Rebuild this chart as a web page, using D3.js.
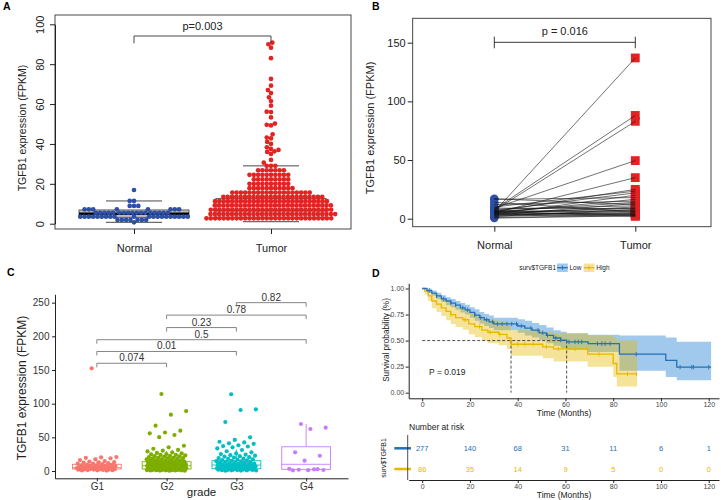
<!DOCTYPE html>
<html>
<head>
<meta charset="utf-8">
<script src="https://cdn.jsdelivr.net/npm/d3@7"></script>
<style>
body { margin: 0; background: #fff; }
svg { display: block; font-family: "Liberation Sans", Arial, Helvetica, sans-serif; }
</style>
</head>
<body>
<div id="chart"></div>
<script>
// ---------- Panel A: beeswarm (rows are [value, count]) ----------
const groupsA = ["Normal", "Tumor"];
const normalRows = [[0.7, 1], [1.9, 7], [3.5, 20], [5.5, 17], [7.2, 8], [8.9, 3], [11.4, 2], [16.9, 1]];
const tumorRows = [[2.7, 30], [4.85, 30], [7.0, 29], [9.15, 28], [11.3, 27], [13.45, 24], [15.6, 19],
                   [17.8, 11], [20.0, 10], [22.2, 9], [24.5, 10], [26.8, 7], [29.0, 3]];
const tumorHigh = [30.6, 32, 35, 36, 36.3, 37, 37.5, 38.3, 40, 41, 42.8, 43.2, 44.8, 49.3, 49.6, 50.2,
                   53.3, 56, 56.2, 59.2, 61.5, 63.4, 65.5, 67, 69.2, 72.6, 83, 88.3, 90, 90.8];
const boxQ1A = [3.2, 3.0];
const boxMedA = [5.0, 6.5];
const boxQ3A = [6.9, 12.7];
const errLowA = [0.7, 1.0];
const errHighA = [11.4, 29.0];

// ---------- Panel B: paired samples ----------
const pairLabelsB = ["Normal", "Tumor"];
const normalB = [6, 8, 7, 9, 5, 6, 10, 7, 4, 16.5, 5, 12, 6, 3, 17, 8, 4, 5, 9, 2, 6, 3, 14, 7, 4, 2, 5, 3, 1, 6, 0.5, 4];
const tumorB = [137, 88, 83, 49.5, 35, 25, 23.5, 22, 20, 18, 16.5, 15, 14, 13, 12, 11, 10, 9, 8.5, 8, 7, 6.5, 6, 5.5, 5, 4.5, 4, 3.5, 3, 3, 2.5, 2];

// ---------- Panel C: expression by grade ----------
const grades = ["G1", "G2", "G3", "G4"];
const gradeColors = ["#F8766D", "#7CAE00", "#00BFC4", "#C77CFF"];
const g1Values = [152.5, 20.8, 20.3, 19.6, 18.9, 17.4, 16.2, 14.8, 14.1, 13.2, 12.9, 12.5, 11.6, 11.2, 10.9, 10.1,
  9.7, 9.2, 8.6, 8.3, 8.1, 7.8, 7.3, 6.9, 6.7, 6.2, 6.1, 5.9, 5.6, 5.4, 5.1, 4.9, 4.7, 4.5, 4.4, 4.2, 3.9,
  3.7, 3.6, 3.5, 3.3, 3.1, 2.9, 2.7, 2.5, 2.3, 2.2, 2.1, 1.9, 1.7, 1.4, 1.2, 1.1, 0.9, 0.7];
const g2Values = [114.4, 89, 83.7, 67.3, 59.9, 57.2, 56, 53.5, 50.2, 37.5, 35.2, 33.1, 31.4, 30.2, 29.1, 27.8,
  26.9, 26.1, 25.3, 24.6, 24.1, 23.9, 23.2, 22.6, 22.0, 21.8, 21.3, 20.7, 20.1, 19.6, 19.2, 19.0, 18.5, 18.0,
  17.7, 17.4, 16.9, 16.4, 15.9, 15.6, 15.3, 14.9, 14.4, 13.9, 13.7, 13.5, 13.1, 12.7, 12.3, 12.1, 11.9, 11.6,
  11.4, 11.2, 10.9, 10.5, 10.2, 10.0, 9.9, 9.6, 9.3, 9.1, 9.0, 8.8, 8.7, 8.4, 8.2, 8.1, 7.9, 7.7, 7.6, 7.4,
  7.3, 7.1, 6.9, 6.8, 6.6, 6.4, 6.3, 6.2, 6.1, 6.0, 5.9, 5.7, 5.6, 5.5, 5.4, 5.3, 5.2, 5.0, 4.9, 4.8, 4.7,
  4.6, 4.5, 4.4, 4.3, 4.2, 4.1, 4.0, 3.8, 3.7, 3.6, 3.5, 3.4, 3.3, 3.2, 3.1, 3.0, 2.9, 2.8, 2.7, 2.6, 2.5,
  2.4, 2.3, 2.2, 2.1, 2.0, 1.9, 1.8, 1.7, 1.6, 1.5, 1.4, 1.3, 1.2, 1.1, 1.0, 0.9, 0.8, 0.6, 0.5, 0.4];
const g3Values = [114, 91.6, 90.6, 72.8, 50.1, 46.2, 43.5, 42.4, 41.2, 40.4, 38.3, 37.1, 36.4, 35.2, 33.6, 31.2,
  29.4, 27.7, 26.2, 25.1, 24.3, 23.5, 22.8, 22.1, 21.4, 20.6, 19.9, 19.3, 18.6, 18.1, 17.5, 16.9, 16.3, 15.8,
  15.2, 14.7, 14.2, 13.8, 13.3, 12.9, 12.4, 12.0, 11.6, 11.2, 10.8, 10.4, 10.1, 9.8, 9.4, 9.1, 8.8, 8.5, 8.2,
  7.9, 7.6, 7.4, 7.1, 6.8, 6.6, 6.3, 6.1, 5.8, 5.6, 5.4, 5.2, 5.0, 4.8, 4.6, 4.4, 4.2, 4.0, 3.8, 3.7, 3.5,
  3.3, 3.2, 3.0, 2.8, 2.7, 2.5, 2.3, 2.2, 2.0, 1.9, 1.7, 1.6, 1.4, 1.3, 1.1, 1.0, 0.8, 0.7, 0.5];
const g4Values = [69.8, 64.3, 62.4, 27.7, 22.7, 15.3, 3.2, 2.4, 1.9, 1.5, 1.3, 1.1, 2.8];
const boxLowC = [0.5, 0.3, 0.3, 1.0];
const boxQ1C = [3.0, 3.0, 3.4, 2.5];
const boxMedC = [5.0, 7.9, 8.9, 10.0];
const boxQ3C = [10.0, 13.8, 15.3, 36.0];
const boxHighC = [20.5, 30.0, 32.0, 70.0];
// comparisons: [from, to, p label, bracket height]
const compsC = [["G1", "G2", "0.074", 160], ["G1", "G3", "0.01", 177.5], ["G1", "G4", "0.5", 195],
                ["G2", "G3", "0.23", 213], ["G2", "G4", "0.78", 231.5], ["G3", "G4", "0.82", 250]];

// ---------- Panel D: Kaplan-Meier ----------
const lowTime  = [0, 2, 4, 6, 8, 10, 12, 14, 16, 18, 20, 22, 24, 26, 28, 30, 40, 43, 46, 49, 52, 55, 58, 60.5, 69.5, 82.6, 102, 106.6, 121];
const lowSurv  = [1, .98, .955, .93, .90, .88, .86, .84, .815, .795, .77, .745, .72, .70, .68, .66, .64, .62, .60, .575, .55, .525, .505, .487, .47, .37, .31, .245, .245];
const lowLower = [1, .96, .93, .90, .87, .84, .82, .795, .77, .75, .72, .69, .665, .64, .62, .60, .575, .55, .53, .505, .475, .45, .43, .41, .39, .21, .15, .12, .12];
const lowUpper = [1, 1, .98, .96, .935, .915, .90, .88, .86, .845, .82, .80, .775, .755, .74, .72, .705, .69, .67, .65, .625, .60, .585, .57, .555, .55, .53, .49, .49];
const lowCensor = [3, 6, 9, 12, 14, 17, 19, 22, 24.5, 27, 29.5, 31.5, 33.5, 35.5, 37.5, 39.5, 41.5, 45.5, 48.5, 50.5,
                   52.5, 56, 58, 61.5, 64, 65.4, 66.8, 73.4, 75.2, 76.6, 78.7, 89.6, 108, 112.9, 113.6, 120];
const highTime  = [0, 1, 2.5, 4, 6, 8, 10, 12, 14, 17, 19.5, 22, 25, 27.5, 32, 35.5, 37.2, 50.5, 55, 69.3, 80, 81.5, 90];
const highSurv  = [1, .975, .93, .88, .85, .815, .78, .75, .72, .70, .66, .635, .60, .58, .56, .525, .465, .44, .42, .37, .28, .18, .18];
const highLower = [1, .94, .88, .81, .775, .735, .695, .66, .63, .605, .56, .535, .50, .475, .455, .42, .355, .33, .30, .25, .15, .06, .06];
const highUpper = [1, 1, .985, .95, .93, .90, .87, .845, .82, .80, .765, .745, .71, .695, .68, .65, .60, .585, .57, .55, .53, .50, .50];
const highCensor = [12, 18, 24, 28.5, 32.5, 40, 43, 46.5, 52, 57, 64, 74, 86, 89.7];
const riskTimes = [0, 20, 40, 60, 80, 100, 120];
const riskLow = [277, 140, 68, 31, 11, 6, 1];
const riskHigh = [86, 35, 14, 9, 5, 0, 0];

const blueA = "#2D4FA4", redA = "#E32322";
const lowColor = "#2371B6", highColor = "#E7B800";

const svg = d3.select("#chart").append("svg").attr("width", 722).attr("height", 500);

function styleAxis(g, size, color) {
  g.attr("font-family", null).attr("font-size", size);
  g.selectAll("text").attr("fill", color);
  g.selectAll("line, path").attr("stroke", "#222");
}

// greedy beeswarm placement, returns x offsets
function swarm(values, y, d) {
  const pts = values.slice().sort((a, b) => a - b).map(v => ({ v, y: y(v), x: 0 }));
  const placed = [];
  pts.forEach(p => {
    const near = placed.filter(q => Math.abs(q.y - p.y) < d);
    const cands = [0];
    near.forEach(q => {
      const dx = Math.sqrt(d * d - (q.y - p.y) ** 2);
      cands.push(q.x + dx, q.x - dx);
    });
    cands.sort((a, b) => Math.abs(a) - Math.abs(b) || a - b);
    for (const c of cands) {
      if (near.every(q => (q.x - c) ** 2 + (q.y - p.y) ** 2 >= d * d - 0.01)) { p.x = c; break; }
    }
    placed.push(p);
  });
  return placed;
}

// panel letters
[["A", 3, 10], ["B", 372, 10], ["C", 7, 276], ["D", 372, 277]].forEach(([t, x, y]) => {
  svg.append("text").attr("x", x).attr("y", y).attr("font-size", 10.5).attr("font-weight", "bold").text(t);
});

// ================= Panel A =================
(function () {
  const g = svg.append("g");
  const x = d3.scalePoint().domain(groupsA).range([134, 271]);
  const y = d3.scaleLinear().domain([0, 100]).range([223.7, 24.3]);

  g.append("rect").attr("x", 55).attr("y", 15).attr("width", 296).attr("height", 214)
    .attr("fill", "none").attr("stroke", "#333").attr("stroke-width", 0.9);

  groupsA.forEach((k, i) => {
    const cx = x(k);
    g.append("rect").attr("x", cx - 55).attr("width", 110)
      .attr("y", y(boxQ3A[i])).attr("height", y(boxQ1A[i]) - y(boxQ3A[i]))
      .attr("fill", i ? "#d6d6d6" : "#bdbdbd").attr("stroke", "#444").attr("stroke-width", 0.8);
    g.append("line").attr("x1", cx - 55).attr("x2", cx + 55)
      .attr("y1", y(boxMedA[i])).attr("y2", y(boxMedA[i]))
      .attr("stroke", "#000").attr("stroke-width", i ? 1.2 : 2.4);
    [errLowA[i], errHighA[i]].forEach(v => {
      g.append("line").attr("x1", cx - 28).attr("x2", cx + 28).attr("y1", y(v)).attr("y2", y(v))
        .attr("stroke", "#333").attr("stroke-width", 0.9);
    });
  });

  const normalVals = normalRows.flatMap(([v, n]) => d3.range(n).map(() => v));
  const tumorVals = tumorRows.flatMap(([v, n]) => d3.range(n).map(() => v)).concat(tumorHigh);
  [[normalVals, "Normal", blueA], [tumorVals, "Tumor", redA]].forEach(([vals, k, col]) => {
    g.append("g").selectAll("circle").data(swarm(vals, y, 4.3)).join("circle")
      .attr("cx", d => x(k) + d.x).attr("cy", d => d.y).attr("r", 2.35).attr("fill", col);
  });

  const ya = g.append("g").attr("transform", "translate(55,0)")
    .call(d3.axisLeft(y).tickValues([0, 20, 40, 60, 80, 100]).tickSize(5).tickSizeOuter(0));
  styleAxis(ya, 11, "#222");
  ya.selectAll(".tick text").attr("transform", "rotate(-90)").attr("x", 0).attr("y", -11)
    .attr("dy", 0).attr("text-anchor", "middle");

  const xa = g.append("g").attr("transform", "translate(0,229)")
    .call(d3.axisBottom(x).tickSize(5).tickSizeOuter(0).tickPadding(10));
  styleAxis(xa, 11, "#222");
  xa.select(".domain").remove();

  g.append("text").attr("transform", "translate(25.5,128) rotate(-90)")
    .attr("text-anchor", "middle").attr("font-size", 10.5).attr("fill", "#222")
    .text("TGFB1 expression (FPKM)");

  g.append("path").attr("fill", "none").attr("stroke", "#333").attr("stroke-width", 0.9)
    .attr("d", `M${x("Normal")},43.3V36H${x("Tumor")}V43.3`);
  g.append("text").attr("x", (x("Normal") + x("Tumor")) / 2).attr("y", 29.5)
    .attr("text-anchor", "middle").attr("font-size", 11).attr("fill", "#222").text("p=0.003");
})();

// ================= Panel B =================
(function () {
  const g = svg.append("g");
  const x = d3.scalePoint().domain(pairLabelsB).range([494.3, 635.3]);
  const y = d3.scaleLinear().domain([0, 150]).range([218.7, 42.7]);

  g.append("rect").attr("x", 412.7).attr("y", 18.3).attr("width", 298.3).attr("height", 208.4)
    .attr("fill", "none").attr("stroke", "#333").attr("stroke-width", 0.9);

  g.append("g").selectAll("circle").data(normalB).join("circle")
    .attr("cx", x("Normal")).attr("cy", d => y(d)).attr("r", 4.2).attr("fill", blueA);
  g.append("g").selectAll("rect").data(tumorB).join("rect")
    .attr("x", x("Tumor") - 4.4).attr("y", d => y(d) - 4.4).attr("width", 8.8).attr("height", 8.8)
    .attr("fill", redA);
  g.append("g").selectAll("line").data(d3.range(normalB.length)).join("line")
    .attr("x1", x("Normal")).attr("x2", x("Tumor"))
    .attr("y1", i => y(normalB[i])).attr("y2", i => y(tumorB[i]))
    .attr("stroke", "#111").attr("stroke-width", 0.6);

  const ya = g.append("g").attr("transform", "translate(412.7,0)")
    .call(d3.axisLeft(y).tickValues([0, 50, 100, 150]).tickSize(5).tickSizeOuter(0).tickPadding(2));
  styleAxis(ya, 11, "#222");
  ya.select(".domain").remove();

  const xa = g.append("g").attr("transform", "translate(0,226.7)")
    .call(d3.axisBottom(x).tickSize(5).tickSizeOuter(0).tickPadding(10));
  styleAxis(xa, 11, "#222");
  xa.select(".domain").remove();

  g.append("text").attr("transform", "translate(373.5,128) rotate(-90)")
    .attr("text-anchor", "middle").attr("font-size", 11).attr("fill", "#222")
    .text("TGFB1 expression (FPKM)");

  g.append("path").attr("fill", "none").attr("stroke", "#222").attr("stroke-width", 0.9)
    .attr("d", `M${x("Normal")},36.7V48.3M${x("Normal")},42.3H${x("Tumor")}M${x("Tumor")},36.7V48.3`);
  g.append("text").attr("x", (x("Normal") + x("Tumor")) / 2).attr("y", 35)
    .attr("text-anchor", "middle").attr("font-size", 11).attr("fill", "#222").text("p = 0.016");
})();

// ================= Panel C =================
(function () {
  const g = svg.append("g");
  const x = d3.scalePoint().domain(grades).range([55, 348]).padding(0.6);
  const y = d3.scaleLinear().domain([-10.8, 262.4]).range([478.3, 294.3]);
  const bw = x.step() * 0.7;
  const groups = [g1Values, g2Values, g3Values, g4Values];

  grades.forEach((k, i) => {
    const cx = x(k), col = gradeColors[i];
    const b = g.append("g").attr("stroke", col).attr("stroke-width", 0.9).attr("fill", "none");
    b.append("line").attr("x1", cx).attr("x2", cx).attr("y1", y(boxQ3C[i])).attr("y2", y(boxHighC[i]));
    b.append("line").attr("x1", cx).attr("x2", cx).attr("y1", y(boxQ1C[i])).attr("y2", y(boxLowC[i]));
    b.append("rect").attr("x", cx - bw / 2).attr("width", bw)
      .attr("y", y(boxQ3C[i])).attr("height", y(boxQ1C[i]) - y(boxQ3C[i])).attr("fill", "#fff");
    b.append("line").attr("x1", cx - bw / 2).attr("x2", cx + bw / 2)
      .attr("y1", y(boxMedC[i])).attr("y2", y(boxMedC[i]));
  });

  grades.forEach((k, i) => {
    // deterministic low-discrepancy jitter
    g.append("g").selectAll("circle").data(groups[i]).join("circle")
      .attr("cx", (d, j) => x(k) + (((j * 0.6180339887 + 0.37) % 1) - 0.5) * 40)
      .attr("cy", d => y(d)).attr("r", 2.1).attr("fill", gradeColors[i]);
  });

  compsC.forEach(([a, b, lab, h]) => {
    const yy = y(h);
    g.append("path").attr("fill", "none").attr("stroke", "#666").attr("stroke-width", 0.8)
      .attr("d", `M${x(a)},${yy + 4}V${yy}H${x(b)}V${yy + 4}`);
    g.append("text").attr("x", (x(a) + x(b)) / 2).attr("y", yy - 2)
      .attr("text-anchor", "middle").attr("font-size", 10).attr("fill", "#333").text(lab);
  });

  const ya = g.append("g").attr("transform", "translate(55,0)")
    .call(d3.axisLeft(y).tickValues([0, 50, 100, 150, 200, 250]).tickSize(3).tickSizeOuter(0).tickPadding(2.5));
  styleAxis(ya, 10, "#333");
  const xa = g.append("g").attr("transform", "translate(0,478.3)")
    .call(d3.axisBottom(x).tickSize(3).tickSizeOuter(0).tickPadding(2));
  styleAxis(xa, 10, "#333");

  g.append("text").attr("x", 201.5).attr("y", 495.5).attr("text-anchor", "middle")
    .attr("font-size", 11.5).attr("fill", "#222").text("grade");
  g.append("text").attr("transform", "translate(26,388) rotate(-90)")
    .attr("text-anchor", "middle").attr("font-size", 12).attr("fill", "#222")
    .text("TGFB1 expression (FPKM)");
})();

// ================= Panel D =================
(function () {
  const g = svg.append("g");
  const x = d3.scaleLinear().domain([-5.65, 124.3]).range([408.7, 719]);
  const y = d3.scaleLinear().domain([-0.054, 1.05]).range([398.3, 283.3]);
  const ticks = [0, 20, 40, 60, 80, 100, 120];

  const series = [
    { t: lowTime, s: lowSurv, lo: lowLower, hi: lowUpper, c: lowCensor, col: lowColor, fill: "#1478D2" },
    { t: highTime, s: highSurv, lo: highLower, hi: highUpper, c: highCensor, col: highColor, fill: "#E7B800" }
  ];

  series.forEach(S => {
    const area = d3.area().curve(d3.curveStepAfter)
      .x(i => x(S.t[i])).y0(i => y(S.lo[i])).y1(i => y(S.hi[i]));
    g.append("path").attr("d", area(d3.range(S.t.length))).attr("fill", S.fill).attr("opacity", 0.4);
  });

  // median lines
  const med = series.map(S => S.t[S.s.findIndex(v => v <= 0.5)]);
  const dash = g.append("g").attr("stroke", "#222").attr("stroke-width", 0.8)
    .attr("stroke-dasharray", "3,2").attr("fill", "none");
  dash.append("line").attr("x1", x(0)).attr("x2", x(d3.max(med))).attr("y1", y(0.5)).attr("y2", y(0.5));
  med.forEach(m => dash.append("line").attr("x1", x(m)).attr("x2", x(m)).attr("y1", y(0.5)).attr("y2", y(0)));

  series.slice().reverse().forEach(S => {
    const line = d3.line().curve(d3.curveStepAfter).x(i => x(S.t[i])).y(i => y(S.s[i]));
    g.append("path").attr("d", line(d3.range(S.t.length))).attr("fill", "none")
      .attr("stroke", S.col).attr("stroke-width", 1.3);
    g.append("g").selectAll("line").data(S.c).join("line")
      .attr("x1", d => x(d)).attr("x2", d => x(d))
      .attr("y1", d => y(S.s[d3.bisectRight(S.t, d) - 1]) - 2.2)
      .attr("y2", d => y(S.s[d3.bisectRight(S.t, d) - 1]) + 2.2)
      .attr("stroke", S.col).attr("stroke-width", 0.9);
  });

  g.append("text").attr("x", 429).attr("y", 375.3).attr("font-size", 8.5).attr("fill", "#222").text("P = 0.019");

  const ya = g.append("g").attr("transform", "translate(408.7,0)")
    .call(d3.axisLeft(y).tickValues([0, 0.25, 0.5, 0.75, 1]).tickFormat(d3.format(".2f"))
      .tickSize(3).tickSizeOuter(0).tickPadding(1.5));
  styleAxis(ya, 7, "#444");
  const xa = g.append("g").attr("transform", "translate(0,398.3)")
    .call(d3.axisBottom(x).tickValues(ticks).tickSize(3).tickSizeOuter(0).tickPadding(0.5));
  styleAxis(xa, 7, "#444");

  g.append("text").attr("x", 564).attr("y", 415.5).attr("text-anchor", "middle")
    .attr("font-size", 8.5).attr("fill", "#222").text("Time (Months)");
  g.append("text").attr("transform", "translate(389,340) rotate(-90)").attr("text-anchor", "middle")
    .attr("font-size", 8.2).attr("fill", "#222").text("Survival probability (%)");

  // legend
  const lg = g.append("g").attr("font-size", 6.5).attr("fill", "#222");
  lg.append("text").attr("x", 556).attr("y", 270).attr("text-anchor", "end").text("surv$TGFB1");
  [[557, "Low", series[0]], [583.7, "High", series[1]]].forEach(([lx, lab, S]) => {
    lg.append("rect").attr("x", lx).attr("y", 263.5).attr("width", 10.8).attr("height", 8.5)
      .attr("fill", S.fill).attr("opacity", 0.4);
    lg.append("line").attr("x1", lx).attr("x2", lx + 10.8).attr("y1", 267.7).attr("y2", 267.7)
      .attr("stroke", S.col).attr("stroke-width", 1.3);
    lg.append("line").attr("x1", lx + 5.4).attr("x2", lx + 5.4).attr("y1", 265.5).attr("y2", 269.9)
      .attr("stroke", S.col).attr("stroke-width", 0.9);
    lg.append("text").attr("x", lx + 12.5).attr("y", 270).text(lab);
  });

  // risk table
  const yr = d3.scalePoint().domain(["Low", "High"]).range([448.3, 469]);
  g.append("text").attr("x", 409).attr("y", 429.7).attr("font-size", 8.5).attr("fill", "#222").text("Number at risk");
  [["Low", riskLow, lowColor], ["High", riskHigh, highColor]].forEach(([k, vals, col]) => {
    g.append("g").selectAll("text").data(vals).join("text")
      .attr("x", (d, i) => x(riskTimes[i])).attr("y", yr(k) + 2.7)
      .attr("text-anchor", "middle").attr("font-size", 7.5).attr("fill", col).text(d => d);
    g.append("line").attr("x1", 394.3).attr("x2", 411).attr("y1", yr(k)).attr("y2", yr(k))
      .attr("stroke", col).attr("stroke-width", 2.5);
  });
  g.append("line").attr("x1", 407.7).attr("x2", 407.7).attr("y1", 435).attr("y2", 480)
    .attr("stroke", "#222").attr("stroke-width", 0.8);
  const xr = g.append("g").attr("transform", "translate(0,480)")
    .call(d3.axisBottom(x).tickValues(ticks).tickSize(3).tickSizeOuter(0).tickPadding(1.5));
  styleAxis(xr, 7, "#444");
  g.append("text").attr("x", 564).attr("y", 497.8).attr("text-anchor", "middle")
    .attr("font-size", 8.5).attr("fill", "#222").text("Time (Months)");
  g.append("text").attr("transform", "translate(386,458) rotate(-90)").attr("text-anchor", "middle")
    .attr("font-size", 7).attr("fill", "#222").text("surv$TGFB1");
})();
</script>
</body>
</html>
